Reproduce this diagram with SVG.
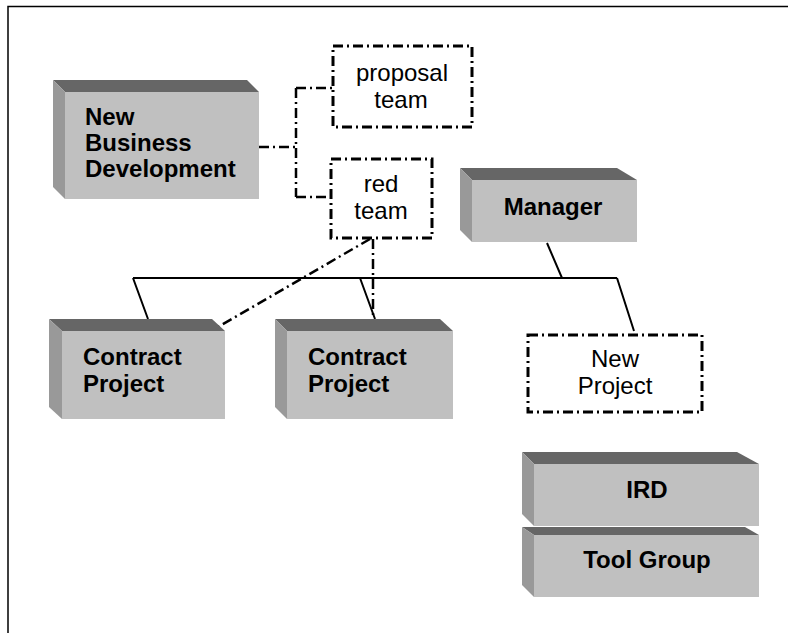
<svg xmlns="http://www.w3.org/2000/svg" width="788" height="633" viewBox="0 0 788 633">
<style>
.top{fill:#666666}
.left{fill:#999999}
.front{fill:#c0c0c0}
.bt{font-family:"Liberation Sans",Arial,sans-serif;font-weight:bold;font-size:24px;fill:#000}
.rt{font-family:"Liberation Sans",Arial,sans-serif;font-size:24px;fill:#000}
.dd{fill:none;stroke:#000;stroke-width:3;stroke-dasharray:10 4 2 4}
.dc{fill:none;stroke:#000;stroke-width:2.5;stroke-dasharray:10 4 2 4}
.sl{fill:none;stroke:#000;stroke-width:2}
</style>
<rect width="788" height="633" fill="#fff"/>
<path d="M8 633 V6.5 H788" fill="none" stroke="#000" stroke-width="1.5"/>

<g id="connectors">
<path class="dc" d="M259 147 H296 M296 88 V197 M296 88 H333 M296 197 H331"/>
<path class="sl" d="M133 278 H617 M133 278 L148 319 M360 278 L375 319 M547 243 L562 278 M617 278 L634 331"/>
<path class="dc" d="M373 239 V320 M370 239 L218 327"/>
</g>

<g id="nbd">
<polygon class="top" points="53,80 247,80 259,92 65,92"/>
<polygon class="left" points="53,80 65,92 65,199 53,187"/>
<rect class="front" x="65" y="92" width="194" height="107"/>
<text class="bt" x="85" y="125">New</text>
<text class="bt" x="85" y="151">Business</text>
<text class="bt" x="85" y="177">Development</text>
</g>

<g id="proposal">
<rect class="dd" x="333" y="46" width="139" height="81" fill="#fff"/>
<text class="rt" x="402" y="81" text-anchor="middle">proposal</text>
<text class="rt" x="401" y="108" text-anchor="middle">team</text>
</g>

<g id="redteam">
<rect class="dd" x="331" y="159" width="101" height="79" fill="#fff"/>
<text class="rt" x="381" y="192" text-anchor="middle">red</text>
<text class="rt" x="381" y="219" text-anchor="middle">team</text>
</g>

<g id="manager">
<polygon class="top" points="460,168 617,168 637,180 472,180"/>
<polygon class="left" points="460,168 472,180 472,242 460,230"/>
<rect class="front" x="472" y="180" width="165" height="62"/>
<text class="bt" x="553" y="215" text-anchor="middle">Manager</text>
</g>

<g id="contract1">
<polygon class="top" points="49,319 212,319 225,331 62,331"/>
<polygon class="left" points="49,319 62,331 62,419 49,407"/>
<rect class="front" x="62" y="331" width="163" height="88"/>
<text class="bt" x="83" y="365">Contract</text>
<text class="bt" x="83" y="392">Project</text>
</g>

<g id="contract2">
<polygon class="top" points="275,319 440,319 453,331 287,331"/>
<polygon class="left" points="275,319 287,331 287,419 275,407"/>
<rect class="front" x="287" y="331" width="166" height="88"/>
<text class="bt" x="308" y="365">Contract</text>
<text class="bt" x="308" y="392">Project</text>
</g>

<g id="newproject">
<rect class="dd" x="528" y="335" width="174" height="77" fill="#fff"/>
<text class="rt" x="615" y="367" text-anchor="middle">New</text>
<text class="rt" x="615" y="394" text-anchor="middle">Project</text>
</g>

<g id="ird">
<polygon class="top" points="522,452 737,452 759,464 534,464"/>
<polygon class="left" points="522,452 534,464 534,526 522,514"/>
<rect class="front" x="534" y="464" width="225" height="62"/>
<text class="bt" x="647" y="498" text-anchor="middle">IRD</text>
</g>

<g id="toolgroup">
<polygon class="top" points="522,527 745,527 759,535 534,535"/>
<polygon class="left" points="522,527 534,535 534,597 522,585"/>
<rect class="front" x="534" y="535" width="225" height="62"/>
<text class="bt" x="647" y="568" text-anchor="middle">Tool Group</text>
</g>
</svg>
